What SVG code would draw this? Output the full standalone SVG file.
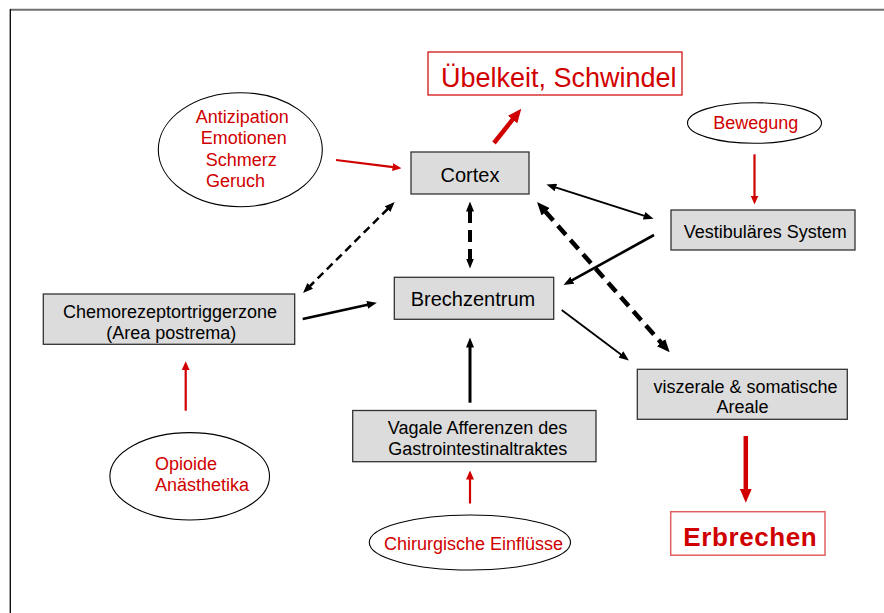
<svg xmlns="http://www.w3.org/2000/svg" width="884" height="613" viewBox="0 0 884 613">
<style>
  text { font-family: "Liberation Sans", Arial, sans-serif; }
  .box { fill: #dcdcdc; stroke: #333333; stroke-width: 1.3; }
  .ell { fill: #ffffff; stroke: #000000; stroke-width: 1.1; }
  .lbl { font-size: 18px; fill: #000000; }
  .big { font-size: 20px; fill: #000000; }
  .red { font-size: 18px; fill: #d00000; }
  .rbox { fill: #ffffff; stroke: #d00000; stroke-width: 1.2; }
  .cb { fill: none; stroke: #000000; }
  .cr { fill: none; stroke: #d00000; }
</style>
<defs>
  <marker id="ahb" markerUnits="userSpaceOnUse" markerWidth="10" markerHeight="8" refX="0.5" refY="4" orient="auto-start-reverse">
    <path d="M0,0 L10,4 L0,8 z" fill="#000000"/>
  </marker>
  <marker id="ahbl" markerUnits="userSpaceOnUse" markerWidth="13" markerHeight="11" refX="0.5" refY="5.5" orient="auto-start-reverse">
    <path d="M0,0 L13,5.5 L0,11 z" fill="#000000"/>
  </marker>
  <marker id="ahr" markerUnits="userSpaceOnUse" markerWidth="9" markerHeight="8" refX="0.5" refY="4" orient="auto">
    <path d="M0,0 L9,4 L0,8 z" fill="#d00000"/>
  </marker>
  <marker id="ahrl" markerUnits="userSpaceOnUse" markerWidth="14" markerHeight="12" refX="0.5" refY="6" orient="auto">
    <path d="M0,0 L14,6 L0,12 z" fill="#d00000"/>
  </marker>
</defs>

<g id="frame">
  <line x1="10" y1="9.8" x2="884" y2="9.8" stroke="#707070" stroke-width="2"/>
  <line x1="10.3" y1="9" x2="10.3" y2="613" stroke="#000000" stroke-width="1.3"/>
</g>

<g id="connectors">
  <line class="cr" x1="336" y1="160" x2="393.1" y2="167.2" stroke-width="2.2" marker-end="url(#ahr)"/>
  <line class="cr" x1="494" y1="143" x2="512.9" y2="119.2" stroke-width="4.5" marker-end="url(#ahrl)"/>
  <line class="cb" x1="470" y1="211" x2="470" y2="259" stroke-width="4" stroke-dasharray="12 7" marker-start="url(#ahb)" marker-end="url(#ahb)"/>
  <line class="cb" x1="387.9" y1="208.75" x2="309.8" y2="286.25" stroke-width="2.5" stroke-dasharray="8 5" marker-start="url(#ahb)" marker-end="url(#ahb)"/>
  <line class="cb" x1="555.5" y1="187.4" x2="644.5" y2="215.9" stroke-width="2" marker-start="url(#ahb)" marker-end="url(#ahb)"/>
  <line class="cb" x1="654" y1="235" x2="571.9" y2="280.4" stroke-width="2.6" marker-end="url(#ahb)"/>
  <line class="cb" x1="545.3" y1="211.45" x2="661.4" y2="342.95" stroke-width="4.5" stroke-dasharray="12 7" marker-start="url(#ahbl)" marker-end="url(#ahbl)"/>
  <line class="cb" x1="561.7" y1="310" x2="621.3" y2="354.7" stroke-width="1.8" marker-end="url(#ahb)"/>
  <line class="cb" x1="302.7" y1="319" x2="367.6" y2="304.7" stroke-width="2.6" marker-end="url(#ahb)"/>
  <line class="cr" x1="185.7" y1="410.7" x2="185.7" y2="369.7" stroke-width="2.2" marker-end="url(#ahr)"/>
  <line class="cr" x1="754.5" y1="154.3" x2="754.5" y2="196" stroke-width="2.2" marker-end="url(#ahr)"/>
  <line class="cb" x1="470" y1="402.7" x2="470" y2="347" stroke-width="3" marker-end="url(#ahb)"/>
  <line class="cr" x1="470" y1="503.5" x2="470" y2="479" stroke-width="2.2" marker-end="url(#ahr)"/>
  <line class="cr" x1="745.8" y1="436" x2="745.8" y2="489.3" stroke-width="4.5" marker-end="url(#ahrl)"/>
</g>

<g id="uebelkeit">
  <rect class="rbox" x="428" y="52" width="254" height="43"/>
  <text x="441" y="87" font-size="27" fill="#d00000">Übelkeit, Schwindel</text>
</g>

<g id="antizipation">
  <ellipse class="ell" cx="240.3" cy="149.7" rx="82" ry="57"/>
  <text class="red" x="195.7" y="123.3">Antizipation</text>
  <text class="red" x="200.7" y="144.3">Emotionen</text>
  <text class="red" x="205.7" y="166">Schmerz</text>
  <text class="red" x="206" y="186.7">Geruch</text>
</g>

<g id="cortex">
  <rect class="box" x="411" y="152" width="118" height="42"/>
  <text class="big" x="470" y="181.5" text-anchor="middle">Cortex</text>
</g>

<g id="bewegung">
  <ellipse class="ell" cx="754.5" cy="123" rx="67" ry="20.3"/>
  <text class="red" x="755.8" y="129.3" text-anchor="middle">Bewegung</text>
</g>

<g id="vestibulaer">
  <rect class="box" x="671" y="210" width="184" height="40"/>
  <text class="lbl" x="765.2" y="238" text-anchor="middle">Vestibuläres System</text>
</g>

<g id="brechzentrum">
  <rect class="box" x="394.3" y="277.3" width="159.4" height="42"/>
  <text class="big" x="473" y="306" text-anchor="middle">Brechzentrum</text>
</g>

<g id="chemo">
  <rect class="box" x="43.3" y="294" width="251.4" height="50.3"/>
  <text class="lbl" x="170" y="318" text-anchor="middle">Chemorezeptortriggerzone</text>
  <text class="lbl" x="171.2" y="338.5" text-anchor="middle">(Area postrema)</text>
</g>

<g id="viszeral">
  <rect class="box" x="637.3" y="369.3" width="210" height="50"/>
  <text class="lbl" x="745.5" y="392.5" text-anchor="middle">viszerale &amp; somatische</text>
  <text class="lbl" x="742.5" y="413.3" text-anchor="middle">Areale</text>
</g>

<g id="vagale">
  <rect class="box" x="352.7" y="410.5" width="243.3" height="51.2"/>
  <text class="lbl" x="477.5" y="434.3" text-anchor="middle">Vagale Afferenzen des</text>
  <text class="lbl" x="477.8" y="455" text-anchor="middle">Gastrointestinaltraktes</text>
</g>

<g id="opioide">
  <ellipse class="ell" cx="189.7" cy="476.3" rx="79.8" ry="43.7"/>
  <text class="red" x="155" y="470">Opioide</text>
  <text class="red" x="155" y="490.7">Anästhetika</text>
</g>

<g id="chirurgie">
  <ellipse class="ell" cx="469.9" cy="542.5" rx="100.6" ry="27.5"/>
  <text class="red" x="473.5" y="550" text-anchor="middle">Chirurgische Einflüsse</text>
</g>

<g id="erbrechen">
  <rect x="670.7" y="511.7" width="154.3" height="43.5" fill="#ffffff" stroke="#e06060" stroke-width="1.5"/>
  <text x="683.3" y="545.7" font-size="26" font-weight="bold" fill="#d00000" textLength="133.4">Erbrechen</text>
</g>
</svg>
